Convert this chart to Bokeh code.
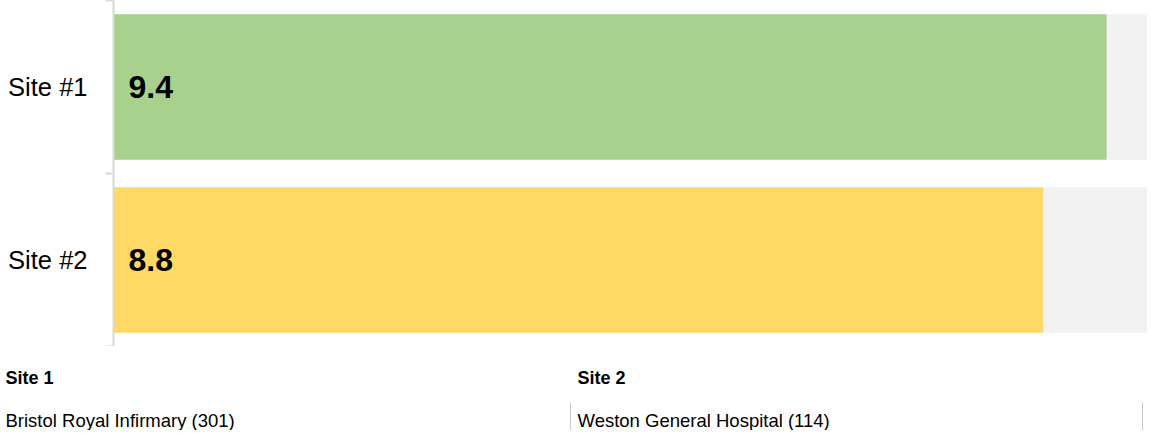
from bokeh.plotting import figure
from bokeh.layouts import column
from bokeh.models import Range1d, FixedTicker
from bokeh.core.properties import value
from bokeh.embed import file_html
from bokeh.resources import INLINE

# ---- data ----
sites = ["Site #1", "Site #2"]
scores = [9.4, 8.8]
score_labels = ["9.4", "8.8"]
max_score = [10, 10]
bar_colors = ["#a9d18e", "#ffd966"]
table_headers = ["Site 1", "Site 2"]
table_names = ["Bristol Royal Infirmary (301)", "Weston General Hospital (114)"]

FONT = "Liberation Sans"

ys = [i + 0.5 for i in range(len(sites))]

p = figure(width=1147, height=346, x_range=Range1d(0, 9.787), y_range=Range1d(len(sites), 0),
           output_backend="svg", toolbar_location=None,
           min_border_left=113, min_border_right=0, min_border_top=0, min_border_bottom=0)
p.frame_align = False
p.hbar(y=ys, left=0, right=max_score, height=0.84, fill_color="#f2f2f2", line_color=None)
p.hbar(y=ys, left=0, right=scores, height=0.84, fill_color=bar_colors, line_color=None)
p.text(x=[0] * len(ys), y=ys, text=score_labels, x_offset=15, text_font=value(FONT),
       text_font_size="32px", text_font_style="bold", text_baseline="middle", text_align="left",
       text_color="black")

p.xaxis.visible = False
p.grid.visible = False
p.outline_line_color = None
ax = p.yaxis[0]
ax.ticker = FixedTicker(ticks=ys, minor_ticks=list(range(len(sites) + 1)))
ax.major_label_overrides = {y: s for y, s in zip(ys, sites)}
ax.major_tick_out = 0
ax.major_tick_in = 0
ax.minor_tick_out = 8
ax.minor_tick_in = 0
ax.minor_tick_line_color = "#d9d9d9"
ax.minor_tick_line_width = 2
ax.axis_line_color = "#d9d9d9"
ax.axis_line_width = 2
ax.major_label_text_font = FONT
ax.major_label_text_font_size = "25.5px"
ax.major_label_text_color = "black"
ax.major_label_standoff = 18

# ---- bottom table ----
col_w = 572
p2 = figure(width=1147, height=84, x_range=Range1d(0, 1147), y_range=Range1d(84, 0),
            output_backend="svg", toolbar_location=None, min_border=0)
p2.frame_align = False
p2.axis.visible = False
p2.grid.visible = False
p2.outline_line_color = None
col_starts = [-2 + i * col_w for i in range(len(table_headers))]
p2.text(x=[c + 7 for c in col_starts], y=[31] * len(col_starts), text=table_headers,
        text_font=value(FONT), text_font_size="18px", text_font_style="bold",
        text_baseline="middle", text_align="left", text_color="black")
p2.text(x=[c + 7 for c in col_starts], y=[74] * len(col_starts), text=table_names,
        text_font=value(FONT), text_font_size="18.5px",
        text_baseline="middle", text_align="left", text_color="black")
p2.segment(x0=[c + col_w for c in col_starts], x1=[c + col_w for c in col_starts],
           y0=[56] * len(col_starts), y1=[84] * len(col_starts), line_color="#c8c8c8", line_width=1)

layout = column(p, p2, spacing=0)
open("out.html", "w").write(file_html(layout, INLINE))
